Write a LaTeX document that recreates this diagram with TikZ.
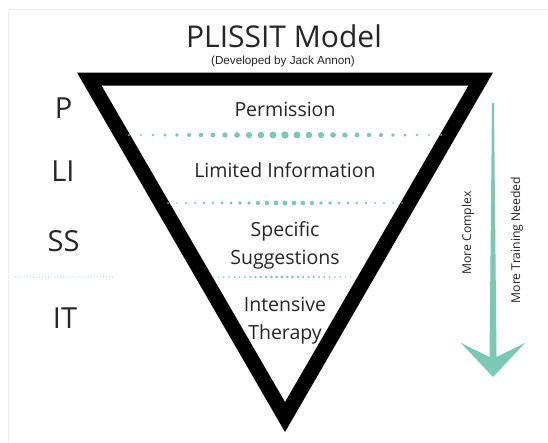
\documentclass[tikz,border=0pt]{standalone}
\usepackage{fontspec}
\setmainfont{Open Sans}
\newfontfamily\arialfont{Liberation Sans}
\definecolor{mint}{RGB}{122,201,181}
\definecolor{ink}{RGB}{38,38,38}
\definecolor{frame}{RGB}{236,236,236}
\begin{document}
\begin{tikzpicture}[x=1pt,y=-1pt,
  lbl/.style={text=ink,inner sep=0pt,anchor=base,font=\fontsize{19.5}{22}\selectfont},
  side/.style={text=ink,inner sep=0pt,anchor=base,font=\fontsize{29}{32}\selectfont},
  rot/.style={text=ink,inner sep=0pt,rotate=90,font=\fontsize{12.2}{14}\selectfont}]
\useasboundingbox (0,0) rectangle (548,442);
\fill[white] (0,0) rectangle (548,442);
% faint frame
\draw[frame,line width=1pt] (8.5,442) -- (8.5,9.5) -- (548,9.5);
% title
\node[text=ink,inner sep=0pt,anchor=base,font=\fontsize{30}{34}\selectfont] (title) at (284,47) {PLISSIT Model};
\node[text=ink,inner sep=0pt,anchor=base,font=\arialfont\fontsize{11.7}{13}\selectfont] (sub) at (283,64) {(Developed by Jack Annon)};
% triangle
\fill[black,even odd rule] (77,72.5) -- (493,72.5) -- (285,432) -- cycle
  (101.5,85.5) -- (468.5,85.5) -- (285,402) -- cycle;
% dotted separators
\foreach \i in {-13,...,13} {
  \pgfmathsetmacro\r{3.7-2.7*abs(\i)/13}
  \fill[mint] (285+12*\i,135) circle[radius=\r pt];
  \pgfmathsetmacro\rr{2.5-1.7*abs(\i)/13}
  \fill[mint] (285+9*\i,203) circle[radius=\rr pt];
  \pgfmathsetmacro\rrr{1.6-0.9*abs(\i)/13}
  \fill[mint] (282+5.3*\i,277) circle[radius=\rrr pt];
}
\foreach \i in {0,...,32} {
  \fill[mint!80] (15+3.05*\i,277) circle[radius=0.6pt];
}
% texts inside
\node[lbl] (perm) at (285,116.5) {Permission};
\node[lbl] (lim) at (285,177) {Limited Information};
\node[lbl] (spec) at (285,236) {Specific};
\node[lbl] (sugg) at (285,264) {Suggestions};
\node[lbl] (inten) at (285,311.5) {Intensive};
\node[lbl] (ther) at (285,339) {Therapy};
% side labels
\node[side] (p) at (63.5,118) {P};
\node[side] (li) at (63,181.5) {LI};
\node[side] (ss) at (63.5,251.5) {SS};
\node[side] (it) at (65,328) {IT};
% arrow
\fill[mint] (492,103) -- (494,103) -- (496.5,357) -- (525,343) -- (493,377)
  -- (461,343) -- (489.5,357) -- cycle;
\node[rot] (mc) at (468,233) {More Complex};
\node[rot] (mt) at (517,240) {More Training Needed};
\end{tikzpicture}
\end{document}
